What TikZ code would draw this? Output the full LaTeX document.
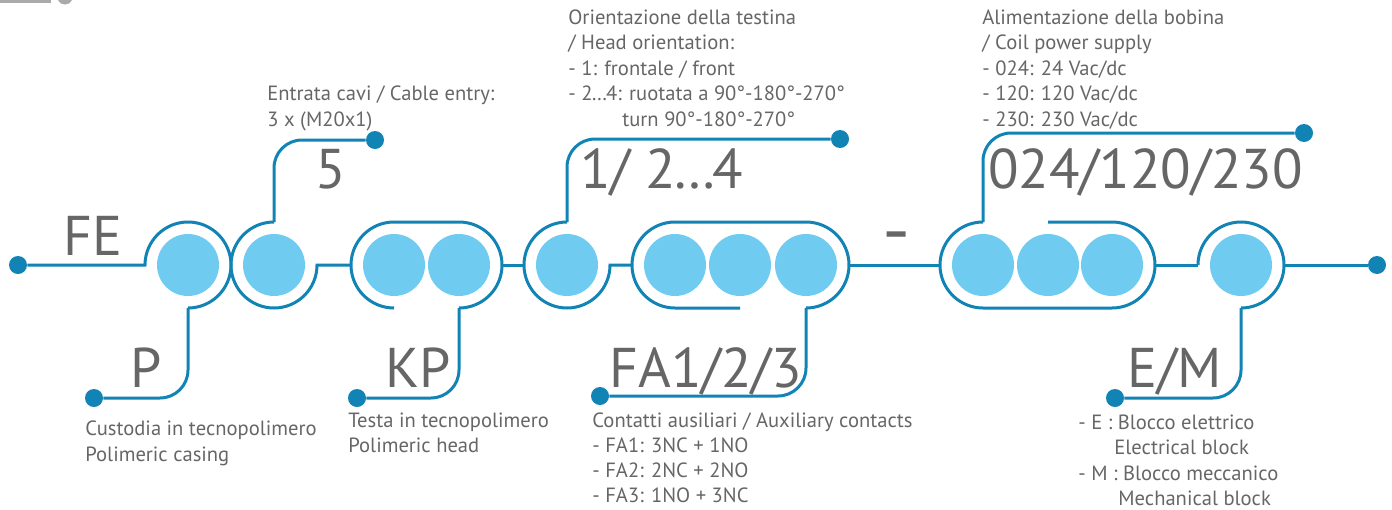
\documentclass[tikz,border=0pt]{standalone}
\usepackage{fontspec}
\setmainfont{PT Sans}
\usetikzlibrary{calc}
\definecolor{wireblue}{RGB}{18,131,181}
\definecolor{ballblue}{RGB}{112,203,240}
\definecolor{txtgrey}{RGB}{102,102,102}
\definecolor{artgrey}{RGB}{170,170,170}
\tikzset{
  wire/.style={draw=wireblue, line width=1.5pt},
  ball/.style={circle, fill=ballblue, minimum size=31pt, inner sep=0pt},
  enddot/.style={circle, fill=wireblue, minimum size=9pt, inner sep=0pt},
  bigtxt/.style={anchor=base west, inner sep=0pt, text=txtgrey, font=\fontsize{28}{30}\selectfont},
  smalltxt/.style={anchor=base west, inner sep=0pt, text=txtgrey, font=\fontsize{10.3}{12}\selectfont},
}
\begin{document}
\begin{tikzpicture}[x=0.5pt, y=0.5pt]
\useasboundingbox (0,0) rectangle (1392,-509);
% cropped artefact at top left
\fill[artgrey] (0,0) rectangle (51,-3);
\fill[artgrey] (58,0) .. controls (60,-6) and (70,-6) .. (72,0) -- cycle;

% balls
\node[ball] (c1) at (188,-265) {};
\node[ball] (c2) at (274,-265) {};
\node[ball] (k3a) at (394,-265) {};
\node[ball] (k3b) at (459,-265) {};
\node[ball] (c4) at (567,-265) {};
\node[ball] (k5a) at (675,-265) {};
\node[ball] (k5b) at (740,-265) {};
\node[ball] (k5c) at (806,-265) {};
\node[ball] (k6a) at (983,-265) {};
\node[ball] (k6b) at (1048,-265) {};
\node[ball] (k6c) at (1112,-265) {};
\node[ball] (c7) at (1241,-265) {};

% end dots
\node[enddot] (dFE) at (18,-265) {};
\node[enddot] (dR) at (1377,-265) {};
\node[enddot] (d5) at (375,-140) {};
\node[enddot] (d124) at (840,-139) {};
\node[enddot] (d024) at (1304,-133) {};
\node[enddot] (dP) at (94,-398) {};
\node[enddot] (dKP) at (357,-398) {};
\node[enddot] (dFA) at (600,-396) {};
\node[enddot] (dEM) at (1115,-398) {};

% main wire and outlines
\draw[wire] (dFE) -- ($(c1)+(-43,0)$) arc[start angle=180, end angle=-90, radius=43];
\draw[wire, rounded corners=14pt] ($(c1)+(0,-43)$) |- (dP);

\draw[wire] ($(c2)+(0,43)$) arc[start angle=90, end angle=360, radius=43] -- ($(k3a)+(-43,0)$);
\draw[wire, rounded corners=14pt] ($(c2)+(0,43)$) |- (d5);

\draw[wire] ($(k3a)+(0,-43)$) arc[start angle=270, end angle=90, radius=43] -- ($(k3b)+(0,43)$) arc[start angle=90, end angle=-90, radius=43];
\draw[wire, rounded corners=14pt] ($(k3b)+(0,-43)$) |- (dKP);
\draw[wire] ($(k3b)+(43,0)$) -- ($(c4)+(-43,0)$);

\draw[wire] ($(c4)+(0,43)$) arc[start angle=90, end angle=360, radius=43] -- ($(k5a)+(-43,0)$);
\draw[wire, rounded corners=14pt] ($(c4)+(0,43)$) |- (d124);

\draw[wire] ($(k5b)+(0,-43)$) -- ($(k5a)+(0,-43)$) arc[start angle=270, end angle=90, radius=43] -- ($(k5c)+(0,43)$) arc[start angle=90, end angle=-90, radius=43];
\draw[wire, rounded corners=14pt] ($(k5c)+(0,-43)$) |- (dFA);
\draw[wire] ($(k5c)+(43,0)$) -- ($(k6a)+(-43,0)$);

\draw[wire] ($(k6b)+(0,43)$) -- ($(k6c)+(0,43)$) arc[start angle=90, end angle=-90, radius=43] -- ($(k6a)+(0,-43)$) arc[start angle=270, end angle=90, radius=43];
\draw[wire, rounded corners=14pt] ($(k6a)+(0,43)$) |- (d024);
\draw[wire] ($(k6c)+(43,0)$) -- ($(c7)+(-43,0)$);

\draw[wire] ($(c7)+(-43,0)$) arc[start angle=180, end angle=-90, radius=43];
\draw[wire, rounded corners=14pt] ($(c7)+(0,-43)$) |- (dEM);
\draw[wire] ($(c7)+(43,0)$) -- (dR);

% big labels
\node[bigtxt] (lFE) at (63,-255) {FE};
\node[bigtxt] (lP) at (130,-387) {P};
\node[bigtxt] (l5) at (315,-188) {5};
\node[bigtxt] (lKP) at (385,-387) {KP};
\node[bigtxt] (l124) at (580,-188) {1/ 2\kern-1.5pt…\kern-1.5pt4};
\node[bigtxt] (lFA) at (609,-387) {FA1/2/3};
\node[bigtxt] (ldash) at (882,-255) {\scalebox{1.4}[1.3]{-}};
\node[bigtxt] (l024) at (988,-188) {024/120/230};
\node[bigtxt] (lEM) at (1127,-387) {E/M};

% small texts
\node[smalltxt] (a1) at (267,-100) {Entrata cavi / Cable entry:};
\node[smalltxt] (a2) at (267,-126) {3 x (M20x1)};

\node[smalltxt] (b1) at (568,-24) {Orientazione della testina};
\node[smalltxt] (b2) at (568,-49) {/ Head orientation:};
\node[smalltxt] (b3) at (568,-75) {- 1: frontale / front};
\node[smalltxt] (b4) at (568,-100) {- 2\kern-0.5pt…\kern-0.5pt4: ruotata a 90°-180°-270°};
\node[smalltxt] (b5) at (622,-126) {turn 90°-180°-270°};

\node[smalltxt] (e1) at (982,-24) {Alimentazione della bobina};
\node[smalltxt] (e2) at (982,-49) {/ Coil power supply};
\node[smalltxt] (e3) at (982,-75) {- 024: 24 Vac/dc};
\node[smalltxt] (e4) at (982,-100) {- 120: 120 Vac/dc};
\node[smalltxt] (e5) at (982,-126) {- 230: 230 Vac/dc};

\node[smalltxt] (p1) at (85,-435) {Custodia in tecnopolimero};
\node[smalltxt] (p2) at (85,-461) {Polimeric casing};

\node[smalltxt] (q1) at (348,-427) {Testa in tecnopolimero};
\node[smalltxt] (q2) at (348,-452) {Polimeric head};

\node[smalltxt] (f1) at (592,-427) {Contatti ausiliari / Auxiliary contacts};
\node[smalltxt] (f2) at (592,-452) {- FA1: 3NC + 1NO};
\node[smalltxt] (f3) at (592,-477) {- FA2: 2NC + 2NO};
\node[smalltxt] (f4) at (592,-502) {- FA3: 1NO + 3NC};

\node[smalltxt] (m1) at (1078,-429) {- E : Blocco elettrico};
\node[smalltxt] (m2) at (1114,-454) {Electrical block};
\node[smalltxt] (m3) at (1078,-480) {- M : Blocco meccanico};
\node[smalltxt] (m4) at (1118,-505) {Mechanical block};
\end{tikzpicture}
\end{document}
